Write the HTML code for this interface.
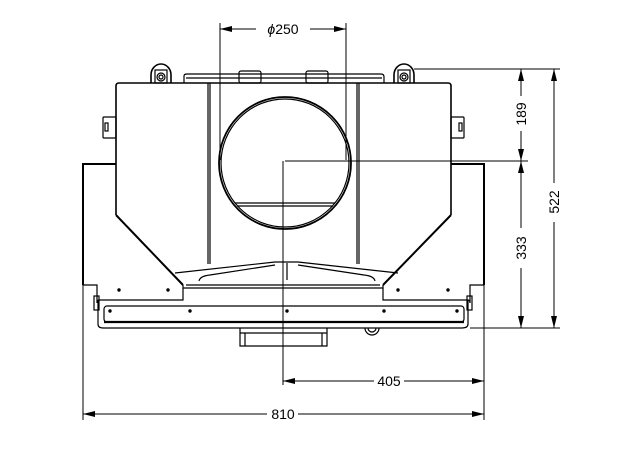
<!DOCTYPE html>
<html><head><meta charset="utf-8"><style>
html,body{margin:0;padding:0;background:#fff;}
svg{display:block;}
text{font-family:"Liberation Sans",sans-serif;font-size:14px;fill:#000;}
</style></head><body>
<svg width="624" height="460" viewBox="0 0 624 460" xmlns="http://www.w3.org/2000/svg">
<defs>
<marker id="a" viewBox="0 0 12 6" refX="12" refY="3" markerWidth="12" markerHeight="6" orient="auto-start-reverse" markerUnits="userSpaceOnUse"><path d="M0,0 L12,3 L0,6 z" fill="#000"/></marker>
</defs>
<g fill="none" stroke="#000" stroke-width="1.2">
<path d="M151,83 V75 A10,11 0 0 1 171,75 V83" stroke-width="1.6"/>
<rect x="155" y="70" width="12" height="13"/>
<circle cx="161" cy="77" r="4"/><circle cx="161" cy="77" r="2"/>
<path d="M394,83 V75 A10,11 0 0 1 414,75 V83" stroke-width="1.6"/>
<rect x="398" y="70" width="12" height="13"/>
<circle cx="404" cy="77" r="4"/><circle cx="404" cy="77" r="2"/>
<path d="M184,83 V76 Q184,74 187,74 H381 Q384,74 384,77 V83"/>
<line x1="186" y1="78" x2="382" y2="78"/>
<rect x="239" y="71" width="22" height="12" rx="2"/>
<rect x="306" y="71" width="22" height="12" rx="2"/>
<path d="M116,215 V86 Q116,83 119,83 H448 Q451,83 451,86 V215" stroke-width="1.6"/>
<path d="M116,215 L183,285 M451,215 L383,285" stroke-width="2"/>
<rect x="103" y="117" width="13" height="21" rx="1"/>
<rect x="105" y="123" width="3" height="8"/>
<rect x="451" y="117" width="13" height="21" rx="1"/>
<rect x="459" y="123" width="3" height="8"/>
<path d="M83,285 V164 H116" stroke-width="2"/>
<path d="M484,285 V164 H451" stroke-width="2"/>
<line x1="208" y1="83" x2="208" y2="264"/><line x1="210" y1="83" x2="210" y2="264"/>
<line x1="357" y1="83" x2="357" y2="264"/><line x1="359" y1="83" x2="359" y2="264"/>
<circle cx="285" cy="163" r="66" stroke-width="1.8"/>
<circle cx="285" cy="163" r="64"/>
<line x1="235" y1="203" x2="335" y2="203"/><line x1="237" y1="206" x2="333" y2="206"/>
<path d="M175,273 L275,262 H298 L398,273"/>
<path d="M199,281 Q200,276 210,275 L275,265 M298,265 L364,275 Q374,276 375,281"/>
<path d="M287,263 V280"/>
<path d="M183,285 V288 H383 V285 M186,285 H380"/>
<path d="M83,285 H97 V303 M484,285 H470 V303"/>
<path d="M97,303 Q97,300 99,300 H183 V288 M470,303 Q470,300 468,300 H383 V288"/>
<path d="M98,300 V324 Q98,328 103,328 H462 Q468,328 468,324 V300"/>
<rect x="94" y="296" width="5" height="14"/><rect x="467" y="296" width="5" height="14"/>
<rect x="104" y="306" width="360" height="16" rx="3"/>
<line x1="104" y1="322" x2="464" y2="322" stroke-width="2.2"/>
<path d="M240,328 V346 H327 V328 M245,333 V346 M322,333 V346 M240,333 H327"/>
<path d="M365,328 A7,7 0 0 0 379,328 M368,328 A4,4 0 0 0 376,328"/>
</g>
<g fill="#000">
<circle cx="119" cy="290" r="1.7"/><circle cx="168" cy="290" r="1.7"/>
<circle cx="398" cy="290" r="1.7"/><circle cx="448" cy="290" r="1.7"/>
<circle cx="110" cy="311" r="1.7"/><circle cx="190" cy="311" r="1.7"/>
<circle cx="287" cy="311" r="1.7"/><circle cx="384" cy="311" r="1.7"/>
<circle cx="457" cy="311" r="1.7"/>
</g>
<g fill="none" stroke="#000" stroke-width="1">
<line x1="220" y1="23" x2="220" y2="160"/>
<line x1="346" y1="23" x2="346" y2="160"/>
<line x1="220" y1="29" x2="256" y2="29" marker-start="url(#a)"/>
<line x1="310" y1="29" x2="346" y2="29" marker-end="url(#a)"/>
<line x1="285" y1="161" x2="528" y2="161"/>
<line x1="283" y1="161" x2="283" y2="385"/>
<line x1="414" y1="69" x2="560" y2="69"/>
<line x1="470" y1="328" x2="560" y2="328"/>
<line x1="521" y1="69" x2="521" y2="96" marker-start="url(#a)"/>
<line x1="521" y1="131" x2="521" y2="161" marker-end="url(#a)"/>
<line x1="521" y1="161" x2="521" y2="228" marker-start="url(#a)"/>
<line x1="521" y1="268" x2="521" y2="328" marker-end="url(#a)"/>
<line x1="554" y1="69" x2="554" y2="183" marker-start="url(#a)"/>
<line x1="554" y1="222" x2="554" y2="328" marker-end="url(#a)"/>
<line x1="83" y1="285" x2="83" y2="420"/>
<line x1="484" y1="285" x2="484" y2="420"/>
<line x1="283" y1="381" x2="374" y2="381" marker-start="url(#a)"/>
<line x1="404" y1="381" x2="484" y2="381" marker-end="url(#a)"/>
<line x1="83" y1="414" x2="267" y2="414" marker-start="url(#a)"/>
<line x1="298" y1="414" x2="484" y2="414" marker-end="url(#a)"/>
</g>
<text x="283" y="34" text-anchor="middle" font-size="15"><tspan font-style="italic">ϕ</tspan>250</text>
<text x="389" y="386" text-anchor="middle">405</text>
<text x="283" y="419" text-anchor="middle">810</text>
<text transform="translate(526,114) rotate(-90)" text-anchor="middle">189</text>
<text transform="translate(526,248) rotate(-90)" text-anchor="middle">333</text>
<text transform="translate(559,202) rotate(-90)" text-anchor="middle">522</text>
</svg>
</body></html>
